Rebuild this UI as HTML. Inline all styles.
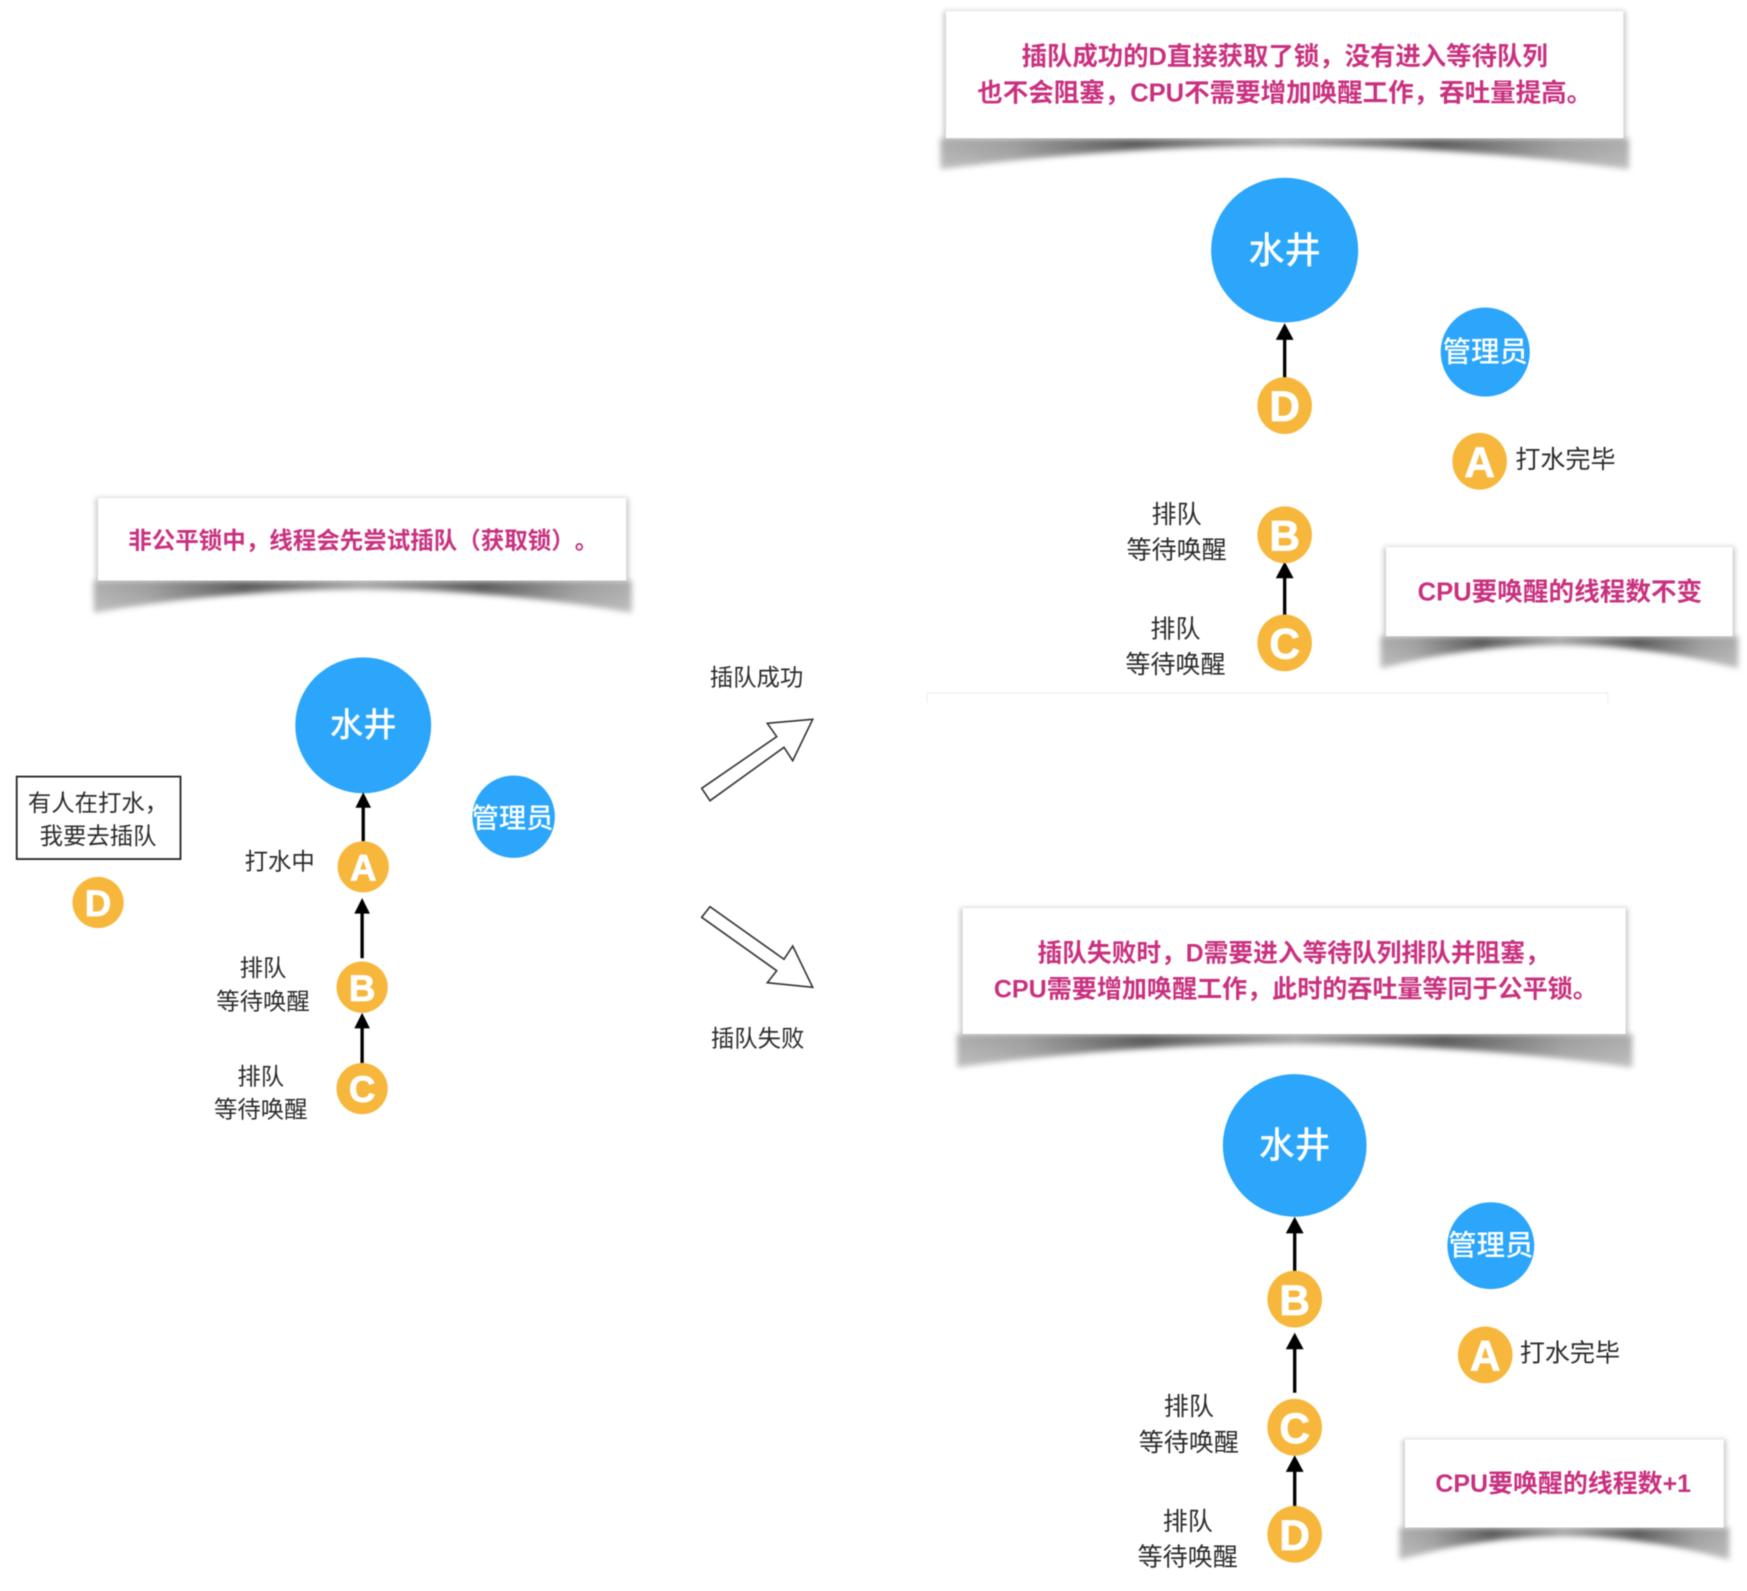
<!DOCTYPE html>
<html><head><meta charset="utf-8"><style>
html,body{margin:0;padding:0;background:#fff}
svg{display:block;filter:blur(.45px)}
text{font-family:"Liberation Sans","Noto Sans CJK SC",sans-serif;text-anchor:middle;dominant-baseline:central;transform:translateY(1px);text-spacing-trim:space-all}
.p{font-size:22.700px;font-weight:700;fill:#c9317f}
.l{font-size:21px;fill:#2b2b2b;transform:translateY(2px)}
.r{font-size:22.500px}
.w{font-size:30px;fill:#fff;font-weight:500}
.m{font-size:24.500px;fill:#fff;font-weight:500}
.k{font-size:38px;font-weight:700;fill:#fff;stroke:#fff;stroke-width:.7;transform:none}
.well{fill:#2ba6fb}
.o{fill:#f6b73c}
.a{stroke:#000;stroke-width:3;fill:none}
</style></head><body>
<svg width="1747" height="1591" viewBox="0 0 1747 1591" xmlns="http://www.w3.org/2000/svg">
<defs>
<linearGradient id="sg"><stop offset="0" stop-color="#a8a8a8"/><stop offset=".1" stop-color="#989898"/><stop offset=".28" stop-color="#505050"/><stop offset=".5" stop-color="#a0a0a0"/><stop offset=".72" stop-color="#505050"/><stop offset=".9" stop-color="#989898"/><stop offset="1" stop-color="#a8a8a8"/></linearGradient>
<linearGradient id="fade" x1="0" y1="0" x2="0" y2="1"><stop offset="0" stop-color="#fff"/><stop offset=".5" stop-color="#ddd"/><stop offset="1" stop-color="#aaa"/></linearGradient>
<mask id="mk" maskContentUnits="objectBoundingBox" x="-5%" y="-20%" width="110%" height="140%"><rect x="-.1" y="-.2" width="1.200" height="1.400" fill="url(#fade)"/></mask>
<filter id="b" x="-10%" y="-50%" width="120%" height="200%"><feGaussianBlur stdDeviation="2.600"/></filter>
<filter id="b2" x="-10%" y="-20%" width="120%" height="140%"><feGaussianBlur stdDeviation="2.500"/></filter>
</defs>
<g transform="scale(1.1142)">
<!-- callouts -->
<g filter="url(#b)">
<path mask="url(#mk)" d="M84 521V550Q325 508 567 550V521Z" fill="url(#sg)"/>
<path mask="url(#mk)" d="M844 124V152Q1153 110 1462 152V124Z" fill="url(#sg)"/>
<path mask="url(#mk)" d="M1239 571V600Q1400 558 1560 600V571Z" fill="url(#sg)"/>
<path mask="url(#mk)" d="M859 928V958Q1161 916 1465 958V928Z" fill="url(#sg)"/>
<path mask="url(#mk)" d="M1256 1371V1400Q1403 1358 1552 1400V1371Z" fill="url(#sg)"/>
</g>
<g filter="url(#b2)" fill="#999" opacity=".55">
<rect x="86" y="447" width="478" height="74"/>
<rect x="847" y="10" width="612" height="114"/>
<rect x="1242" y="491" width="315" height="80"/>
<rect x="862" y="815" width="599" height="113"/>
<rect x="1259" y="1292" width="290" height="79"/>
</g>
<g fill="#fff">
<rect x="88" y="447" width="474" height="74"/>
<rect x="849" y="10" width="608" height="114"/>
<rect x="1244" y="491" width="311" height="80"/>
<rect x="864" y="815" width="595" height="113"/>
<rect x="1261" y="1292" width="286" height="79"/>
</g>
<text class="p" x="326" y="484" style="font-size:21.100px">非公平锁中，线程会先尝试插队（获取锁）。</text>
<text class="p" x="1153" y="50" style="font-size:22.800px">插队成功的D直接获取了锁，没有进入等待队列</text>
<text class="p" x="1153" y="83" style="font-size:22.900px">也不会阻塞，CPU不需要增加唤醒工作，吞吐量提高。</text>
<text class="p" x="1400" y="531" style="font-size:23px">CPU要唤醒的线程数不变</text>
<text class="p" x="1161" y="855" style="font-size:22.200px">插队失败时，D需要进入等待队列排队并阻塞，</text>
<text class="p" x="1163" y="887" style="font-size:22.500px">CPU需要增加唤醒工作，此时的吞吐量等同于公平锁。</text>
<text class="p" x="1403" y="1331" style="font-size:22.400px">CPU要唤醒的线程数+1</text>

<!-- faint separator -->
<path d="M832 631V622H1443V631" fill="none" stroke="#eee" stroke-width="1"/>

<!-- left panel -->
<rect x="15" y="697" width="147" height="74" fill="#fff" stroke="#222" stroke-width="1.600"/>
<text class="l" x="88" y="718.500">有人在打水，</text>
<text class="l" x="88" y="748.500">我要去插队</text>
<circle class="well" cx="326" cy="651" r="61"/>
<text class="w" x="326" y="650.500">水井</text>
<circle class="well" cx="461" cy="733" r="37"/>
<text class="m" x="460" y="733">管理员</text>
<path class="a" d="M326 755V723"/><path d="M326 711l7 14h-14z"/>
<path class="a" d="M325 860V819"/><path d="M325 806l7 14h-14z"/>
<path class="a" d="M325 954V922"/><path d="M325 909l7 14h-14z"/>
<circle class="o" cx="326" cy="778" r="23"/><text class="k" x="326" y="779" style="font-size:33px">A</text>
<circle class="o" cx="325" cy="886" r="23"/><text class="k" x="325" y="887" style="font-size:33px">B</text>
<circle class="o" cx="325" cy="977" r="23"/><text class="k" x="325" y="978" style="font-size:33px">C</text>
<circle class="o" cx="88" cy="810" r="23"/><text class="k" x="88" y="811" style="font-size:33px">D</text>
<text class="l" x="251" y="771">打水中</text>
<text class="l" x="236" y="867">排队</text><text class="l" x="236" y="897">等待唤醒</text>
<text class="l" x="234" y="964">排队</text><text class="l" x="234" y="994">等待唤醒</text>
<text class="l" x="679" y="606">插队成功</text>
<text class="l" x="680" y="930">插队失败</text>

<!-- top right -->
<ellipse class="well" cx="1153" cy="224.500" rx="66" ry="65"/>
<text class="w" x="1153" y="224" style="font-size:32.500px">水井</text>
<circle class="well" cx="1333" cy="316" r="40"/>
<text class="m" x="1333" y="315.500" style="font-size:25.500px">管理员</text>
<path class="a" d="M1153 340V304"/><path d="M1153 290l8 15h-16z"/>
<path class="a" d="M1153 553V518"/><path d="M1153 504l8 15h-16z"/>
<ellipse class="o" cx="1153" cy="364" rx="24.500" ry="25.500"/><text class="k" x="1153" y="365">D</text>
<ellipse class="o" cx="1153" cy="480" rx="24.500" ry="25.500"/><text class="k" x="1153" y="481">B</text>
<ellipse class="o" cx="1153" cy="577" rx="24.500" ry="25.500"/><text class="k" x="1153" y="578">C</text>
<ellipse class="o" cx="1328" cy="414" rx="24.500" ry="25.500"/><text class="k" x="1328" y="415">A</text>
<text class="l r" x="1405" y="411">打水完毕</text>
<text class="l r" x="1056" y="460">排队</text><text class="l r" x="1056" y="492">等待唤醒</text>
<text class="l r" x="1055" y="563">排队</text><text class="l r" x="1055" y="595">等待唤醒</text>

<!-- bottom right -->
<ellipse class="well" cx="1162" cy="1028" rx="64.500" ry="64"/>
<text class="w" x="1162" y="1027" style="font-size:32px">水井</text>
<circle class="well" cx="1338" cy="1118" r="39"/>
<text class="m" x="1338" y="1117.500" style="font-size:25.500px">管理员</text>
<path class="a" d="M1162 1142V1106"/><path d="M1162 1092l8 15h-16z"/>
<path class="a" d="M1162 1250V1210"/><path d="M1162 1196l8 15h-16z"/>
<path class="a" d="M1162 1355V1320"/><path d="M1162 1306l8 15h-16z"/>
<ellipse class="o" cx="1162" cy="1166" rx="24.500" ry="25.500"/><text class="k" x="1162" y="1167">B</text>
<ellipse class="o" cx="1162" cy="1281" rx="24.500" ry="25.500"/><text class="k" x="1162" y="1282">C</text>
<ellipse class="o" cx="1162" cy="1377" rx="24.500" ry="25.500"/><text class="k" x="1162" y="1378">D</text>
<ellipse class="o" cx="1333" cy="1216" rx="24.500" ry="25.500"/><text class="k" x="1333" y="1217">A</text>
<text class="l r" x="1409" y="1213">打水完毕</text>
<text class="l r" x="1067" y="1261">排队</text><text class="l r" x="1067" y="1293">等待唤醒</text>
<text class="l r" x="1066" y="1364">排队</text><text class="l r" x="1066" y="1396">等待唤醒</text>
</g>
<!-- hollow arrows -->
<polygon points="701.700,788.300 776.700,736.700 767.300,723.300 812.700,719.300 792.700,760.700 784,747.300 710,800.700" fill="#fff" stroke="#333" stroke-width="1.600"/>
<polygon points="701.700,917.300 710,906.700 784,959.300 792.700,946 812.700,987.300 767.300,982.700 776.700,970.700" fill="#fff" stroke="#333" stroke-width="1.600"/>
</svg>
</body></html>
